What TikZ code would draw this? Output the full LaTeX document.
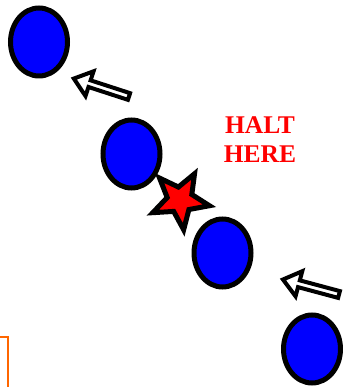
\documentclass[tikz,border=0pt]{standalone}
\usepackage{fontspec}
\setmainfont{Liberation Serif}
\usepackage{xcolor}
\usetikzlibrary{positioning,shapes.geometric}

\definecolor{haltorange}{HTML}{FF6600}

\tikzset{
  ball/.style={ellipse, draw=black, fill=blue, line width=0.1cm,
    minimum width=1.14cm, minimum height=1.36cm, inner sep=0pt},
  haltstar/.style={star, star points=5, star point ratio=2.3,
    draw=black, fill=red, line width=0.1cm, minimum size=1.2cm,
    inner sep=0pt, rotate=-29},
  push arrow/.pic={
    \draw[black, fill=white, line width=0.08cm, line join=miter]
      (0,-0.07) -- (0.83,-0.07) -- (0.83,-0.26) -- (1.16,0)
      -- (0.83,0.26) -- (0.83,0.07) -- (0,0.07) -- cycle;
  }
}

\begin{document}
\begin{tikzpicture}
          \useasboundingbox (0,0) rectangle (6.84,7.74);
          % Orange frame corner, bottom left
          \draw[haltorange, line width=0.04cm] (0,1.0) -- (0.16,1.0) -- (0.16,-0.1);
          % Row of balls
          \node[ball] (b1) at (0.78,6.90) {};
          \node[ball] (b2) at (2.63,4.66) {};
          \node[ball] (b3) at (4.45,2.68) {};
          \node[ball] (b4) at (6.24,0.76) {};
          % Red star between the middle balls
          \node[haltstar] (halt) at (3.60,3.74) {};
          % Push arrows
          \pic[rotate=162] at (2.58,5.81) {push arrow};
          \pic[rotate=165] at (6.78,1.85) {push arrow};
          % Label
          \node[red, font=\fontsize{14.5}{16.5}\selectfont\bfseries, align=center]
            (label) at (5.20,4.95) {HALT\\HERE};
        \end{tikzpicture}
\end{document}
